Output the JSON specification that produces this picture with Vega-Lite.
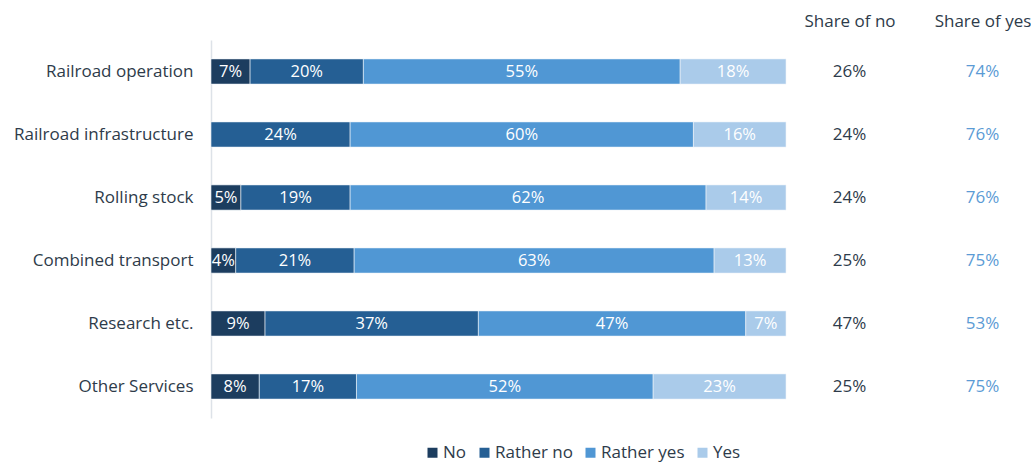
{
  "$schema": "https://vega.github.io/schema/vega-lite/v6.json",
  "padding": {"left": 13, "top": 12, "right": 0, "bottom": 44},
  "config": {
    "font": "Open Sans",
    "view": {"stroke": null},
    "concat": {"spacing": 14}
  },
  "datasets": {
    "bars": [
      {"category": "Railroad operation", "answer": "No", "order": 1, "value": 0.068},
      {"category": "Railroad operation", "answer": "Rather no", "order": 2, "value": 0.197},
      {"category": "Railroad operation", "answer": "Rather yes", "order": 3, "value": 0.551},
      {"category": "Railroad operation", "answer": "Yes", "order": 4, "value": 0.184},
      {"category": "Railroad infrastructure", "answer": "Rather no", "order": 2, "value": 0.242},
      {"category": "Railroad infrastructure", "answer": "Rather yes", "order": 3, "value": 0.597},
      {"category": "Railroad infrastructure", "answer": "Yes", "order": 4, "value": 0.161},
      {"category": "Rolling stock", "answer": "No", "order": 1, "value": 0.052},
      {"category": "Rolling stock", "answer": "Rather no", "order": 2, "value": 0.19},
      {"category": "Rolling stock", "answer": "Rather yes", "order": 3, "value": 0.619},
      {"category": "Rolling stock", "answer": "Yes", "order": 4, "value": 0.139},
      {"category": "Combined transport", "answer": "No", "order": 1, "value": 0.043},
      {"category": "Combined transport", "answer": "Rather no", "order": 2, "value": 0.206},
      {"category": "Combined transport", "answer": "Rather yes", "order": 3, "value": 0.626},
      {"category": "Combined transport", "answer": "Yes", "order": 4, "value": 0.125},
      {"category": "Research etc.", "answer": "No", "order": 1, "value": 0.094},
      {"category": "Research etc.", "answer": "Rather no", "order": 2, "value": 0.371},
      {"category": "Research etc.", "answer": "Rather yes", "order": 3, "value": 0.465},
      {"category": "Research etc.", "answer": "Yes", "order": 4, "value": 0.07},
      {"category": "Other Services", "answer": "No", "order": 1, "value": 0.084},
      {"category": "Other Services", "answer": "Rather no", "order": 2, "value": 0.169},
      {"category": "Other Services", "answer": "Rather yes", "order": 3, "value": 0.516},
      {"category": "Other Services", "answer": "Yes", "order": 4, "value": 0.231}
    ],
    "shares": [
      {"category": "Railroad operation", "column": "Share of no", "label": "26%"},
      {"category": "Railroad operation", "column": "Share of yes", "label": "74%"},
      {"category": "Railroad infrastructure", "column": "Share of no", "label": "24%"},
      {"category": "Railroad infrastructure", "column": "Share of yes", "label": "76%"},
      {"category": "Rolling stock", "column": "Share of no", "label": "24%"},
      {"category": "Rolling stock", "column": "Share of yes", "label": "76%"},
      {"category": "Combined transport", "column": "Share of no", "label": "25%"},
      {"category": "Combined transport", "column": "Share of yes", "label": "75%"},
      {"category": "Research etc.", "column": "Share of no", "label": "47%"},
      {"category": "Research etc.", "column": "Share of yes", "label": "53%"},
      {"category": "Other Services", "column": "Share of no", "label": "25%"},
      {"category": "Other Services", "column": "Share of yes", "label": "75%"}
    ]
  },
  "hconcat": [
    {
      "width": 575,
      "height": 378,
      "data": {"name": "bars"},
      "transform": [
        {"stack": "value", "groupby": ["category"], "sort": [{"field": "order"}], "as": ["x0", "x1"]},
        {"calculate": "(datum.x0 + datum.x1) / 2", "as": "mid"}
      ],
      "encoding": {
        "y": {
          "field": "category",
          "type": "nominal",
          "sort": ["Railroad operation", "Railroad infrastructure", "Rolling stock", "Combined transport", "Research etc.", "Other Services"],
          "scale": {"paddingInner": 0.6, "paddingOuter": 0.3},
          "axis": {"title": null, "ticks": false, "domainColor": "#dde2e8", "domainWidth": 1.5, "labelFontSize": 17, "labelColor": "#2e3b4a", "labelPadding": 18, "labelLimit": 400}
        }
      },
      "layer": [
        {
          "mark": {"type": "bar", "stroke": "#eef3f8", "strokeWidth": 0.6},
          "encoding": {
            "x": {"field": "x0", "type": "quantitative", "scale": {"domain": [0, 1]}, "axis": null},
            "x2": {"field": "x1"},
            "color": {
              "field": "answer",
              "type": "nominal",
              "scale": {"domain": ["No", "Rather no", "Rather yes", "Yes"], "range": ["#1c3d5f", "#255f94", "#5097d4", "#aacbea"]},
              "legend": {"title": null, "orient": "none", "legendX": 213, "legendY": 404, "direction": "horizontal", "symbolType": "square", "symbolSize": 100, "symbolStrokeWidth": 0, "labelFontSize": 17, "labelColor": "#2e3b4a", "labelOffset": 2, "columnPadding": 9}
            }
          }
        },
        {
          "mark": {"type": "text", "color": "white", "fontSize": 16.5, "baseline": "middle"},
          "encoding": {
            "x": {"field": "mid", "type": "quantitative"},
            "text": {"field": "value", "type": "quantitative", "format": ".0%"}
          }
        }
      ]
    },
    {
      "width": 230,
      "height": 378,
      "data": {"name": "shares"},
      "mark": {"type": "text", "fontSize": 17, "baseline": "middle"},
      "encoding": {
        "y": {
          "field": "category",
          "type": "nominal",
          "sort": ["Railroad operation", "Railroad infrastructure", "Rolling stock", "Combined transport", "Research etc.", "Other Services"],
          "scale": {"paddingInner": 0.6, "paddingOuter": 0.3},
          "axis": null
        },
        "x": {
          "field": "column",
          "type": "nominal",
          "scale": {"type": "point", "padding": 0.365},
          "axis": {"orient": "top", "title": null, "domain": false, "ticks": false, "labelAngle": 0, "labelFontSize": 17, "labelColor": "#2e3b4a", "labelPadding": 10}
        },
        "text": {"field": "label"},
        "color": {"condition": {"test": "datum.column === 'Share of yes'", "value": "#5b9bd5"}, "value": "#2e3b4a"}
      }
    }
  ]
}
